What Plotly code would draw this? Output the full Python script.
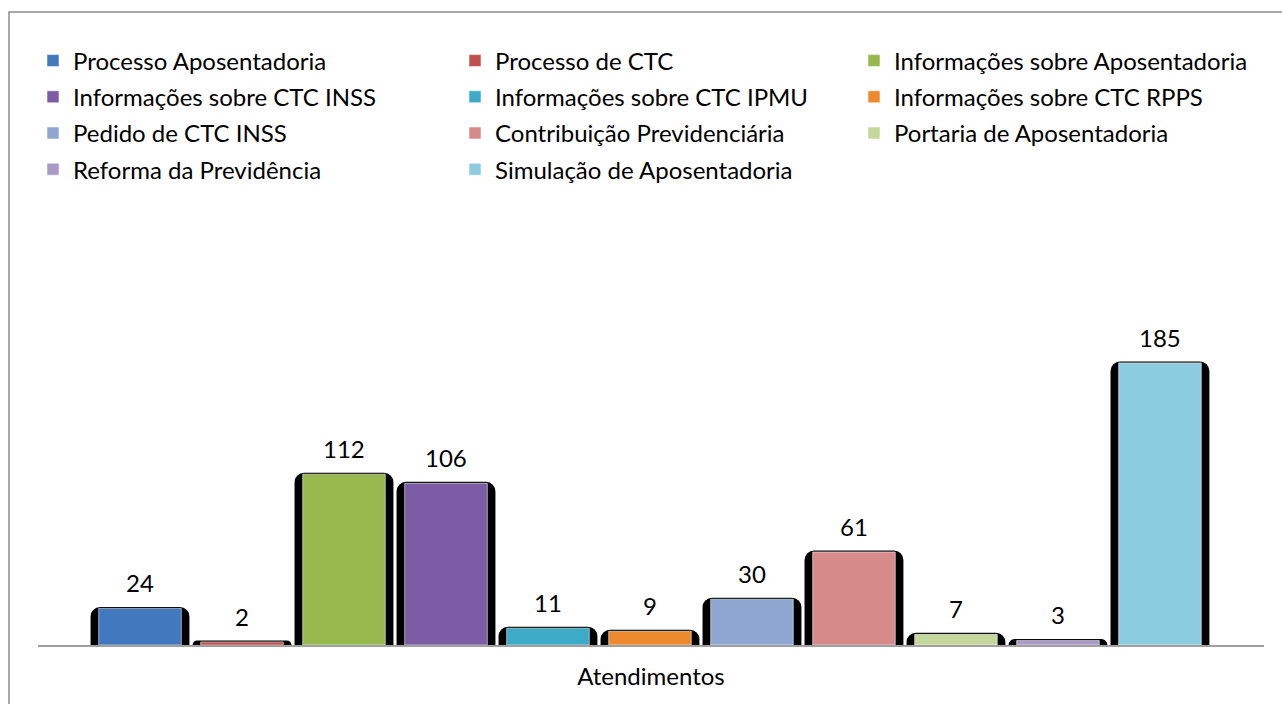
import plotly.graph_objects as go

categories = ["Atendimentos"]
series_names = [
    "Processo Aposentadoria", "Processo de CTC", "Informações sobre Aposentadoria",
    "Informações sobre CTC INSS", "Informações sobre CTC IPMU", "Informações sobre CTC RPPS",
    "Pedido de CTC INSS", "Contribuição Previdenciária", "Portaria de Aposentadoria",
    "Reforma da Previdência", "Simulação de Aposentadoria",
]
series_values = [24, 2, 112, 106, 11, 9, 30, 61, 7, 3, 185]
series_colors = [
    "#4178BE", "#C0504D", "#96B84C", "#7D5CA6", "#3DAAC8", "#EE8A2E",
    "#8FA7D0", "#D68B8A", "#C5D89C", "#A99AC9", "#8CCCE1",
]

W, H = 1282, 704
L, R, T, B = 38, 18, 340, 59
FONT = "Lato"
FSIZE = 24

fig = go.Figure()
legend_ids = ["legend", "legend2", "legend3"]
positions = list(range(len(series_values)))

# shadow bars
for i, (v, p) in enumerate(zip(series_values, positions)):
    fig.add_trace(go.Bar(
        x=[p], y=[v], width=0.94, showlegend=False, hoverinfo="skip",
        marker=dict(color="#000000", line=dict(color="#000000", width=3), cornerradius=8),
    ))

# colored bars
for i, (name, v, c, p) in enumerate(zip(series_names, series_values, series_colors, positions)):
    fig.add_trace(go.Bar(
        x=[p], y=[v], width=0.81, name=name,
        legend=legend_ids[i % 3], legendgroup=name,
        marker=dict(color=c, line=dict(color="rgba(255,255,255,0.55)", width=1)),
    ))

annotations = [
    dict(x=p, y=v, xref="x", yref="y", text=str(v), showarrow=False,
         yanchor="bottom", yshift=9, font=dict(family=FONT, size=FSIZE, color="#000000"))
    for p, v in zip(positions, series_values)
]

plot_w = W - L - R
def px_to_paper_x(px):
    return (px - L) / plot_w
def px_to_paper_y(py):
    return (H - B - py) / (H - T - B)

legend_common = dict(
    orientation="v", yanchor="top", xanchor="left", traceorder="grouped",
    tracegroupgap=2, bgcolor="rgba(0,0,0,0)",
    font=dict(family=FONT, size=FSIZE, color="#000000"),
    y=px_to_paper_y(38.5),
)

fig.update_layout(
    width=W, height=H,
    margin=dict(l=L, r=R, t=T, b=B, autoexpand=False),
    paper_bgcolor="white", plot_bgcolor="white",
    barmode="overlay",
    legend=dict(legend_common, x=px_to_paper_x(33)),
    legend2=dict(legend_common, x=px_to_paper_x(455)),
    legend3=dict(legend_common, x=px_to_paper_x(854)),
    xaxis=dict(
        range=[-1.0, 11.02], showticklabels=False, ticks="", showgrid=False, zeroline=False,
        showline=True, linecolor="#A0A0A0", linewidth=2,
        title=dict(text=categories[0], font=dict(family=FONT, size=FSIZE, color="#000000"), standoff=22),
    ),
    yaxis=dict(range=[0, 200], visible=False, showgrid=False),
    annotations=annotations,
    shapes=[dict(
        type="rect", xref="paper", yref="paper",
        x0=px_to_paper_x(9), x1=px_to_paper_x(1300),
        y0=px_to_paper_y(720), y1=px_to_paper_y(12),
        line=dict(color="#8C8C8C", width=1.5), fillcolor="rgba(0,0,0,0)", layer="below",
    )],
)

fig.write_html("out.html", config={"displayModeBar": False},
               post_script="document.body.style.margin='0px';")
